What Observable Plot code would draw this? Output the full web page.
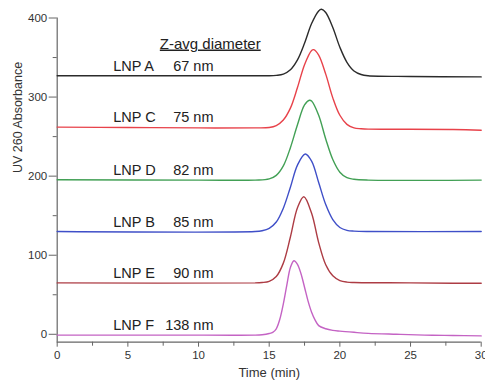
<!DOCTYPE html>
<html><head><meta charset="utf-8">
<script src="https://cdn.jsdelivr.net/npm/d3@7"></script>
<script src="https://cdn.jsdelivr.net/npm/@observablehq/plot@0.6"></script>
<style>
body{margin:0;background:#fff;}
svg{font-family:"Liberation Sans",Arial,sans-serif;}
</style>
</head><body><div id="chart"></div>
<script>
// Series (top to bottom, as drawn)
const names = ["LNP A","LNP C","LNP D","LNP B","LNP E","LNP F"];
const sizes = ["67 nm","75 nm","82 nm","85 nm","90 nm","138 nm"];
const colors = ["#2b2b2b","#e8424a","#42a055","#3f4fc8","#ad3c44","#c463c4"];
const baselines = [327, 262, 195, 130, 65, -1];

// Traces (time in min, absorbance incl. vertical offset)
const tA = [0,5,10,14,15,15.5,16,16.5,17,17.5,18,18.5,18.7,19,19.5,20,20.5,21,21.5,22,25,30];
const vA = [327,327,327,327,327,327.5,329,334.5,347,368,393,409,411,407,388,363,344,333,328.5,327,326,325.5];
const tC = [0,5,10,14,15,15.5,16,16.5,17,17.5,18,18.15,18.5,19,19.5,20,20.5,21,21.5,22,28,30];
const vC = [262,261.5,261,261,261.5,264,271,286,312,341,359,360,353,329,299,277,265.5,261,260,259.5,259,258];
const tD = [0,10,14,15,15.5,16,16.5,17,17.5,17.85,18,18.5,19,19.5,20,20.5,21,22,30];
const vD = [195.5,195,195,196.5,201,213,236,265,290,296,295,277,247,221,205,198,196,195,195];
const tB = [0,14,14.5,15,15.5,16,16.5,17,17.55,18,18.5,19,19.5,20,20.5,21,22,30];
const vB = [130,130,131,134,142,159.5,186,214,228,219,192,164,145,135,131.5,130.5,130,130];
const tE = [0,14,14.5,15,15.5,16,16.5,17,17.45,18,18.5,19,19.5,20,20.5,21,25,28,30];
const vE = [65,65,65.5,67,73,90,123,160,174,153,116,88,74,68,66,65.5,65,64.5,64.5];
const tF = [0,8,14,14.5,15,15.25,15.5,15.75,16,16.25,16.5,16.75,17,17.25,17.5,17.75,18,18.25,18.5,19,19.5,20,21,22,24,26,28,30];
const vF = [-1,-1,-1,-0.5,1,2.5,7,19,38.5,62.5,84.5,93,88.5,76.5,59.5,42,28,18,11,7,5,4,2.5,1.2,0,-1,-1.5,-2];

const yMajor = [0,100,200,300,400];
const yMinor = [50,150,250,350];
const xMajor = [0,5,10,15,20,25,30];
const xMinor = [2.5,7.5,12.5,17.5,22.5,27.5];
const header = [{text:"Z-avg diameter", x:10.83, y:367.5}];

const traces = [[tA,vA],[tC,vC],[tD,vD],[tB,vB],[tE,vE],[tF,vF]];
const rows = traces.flatMap(([t,v],i) => t.map((tt,j) => ({name:names[i], color:colors[i], t:tt, v:v[j]})));
const labels = names.map((n,i) => ({name:n, size:sizes[i], base:baselines[i]}));

const chart = Plot.plot({
  width: 485, height: 383,
  marginLeft: 56.7, marginRight: 4.3, marginTop: 17.5, marginBottom: 41.3,
  x: {domain: [0, 30]},
  y: {domain: [-10, 400]},
  color: {type: "identity"},
  style: {fontFamily: "Liberation Sans, Arial, sans-serif", color: "#333", background: "white"},
  marks: [
    Plot.ruleX([0], {y1: -10, y2: 400, stroke: "#666", strokeWidth: 1.2}),
    Plot.ruleY([-10], {x1: 0, x2: 30, stroke: "#666", strokeWidth: 1.2}),
    Plot.axisY(yMajor, {tickSize: 8, tickPadding: 2, fontSize: 11.5, label: null, stroke: "#666"}),
    Plot.axisY(yMinor, {tickSize: 4, text: null, label: null, stroke: "#666"}),
    Plot.axisX(xMajor, {tickSize: 5, tickPadding: 4, fontSize: 11.5, label: null, stroke: "#666"}),
    Plot.axisX(xMinor, {tickSize: 4, text: null, label: null, stroke: "#666"}),
    Plot.line(rows, {x: "t", y: "v", z: "name", stroke: "color", strokeWidth: 1.4, curve: "catmull-rom"}),
    Plot.text(labels, {x: 3.96, y: "base", text: "name", textAnchor: "start", dy: -9.5, fontSize: 14.5, fill: "#222"}),
    Plot.text(labels, {x: 11.06, y: "base", text: "size", textAnchor: "end", dy: -9.5, fontSize: 14.5, fill: "#222"}),
    Plot.text(header, {x: "x", y: "y", text: "text", fontSize: 15, fill: "#222", className: "zhead"}),
    Plot.text(["Time (min)"], {frameAnchor: "bottom", dy: 35, fontSize: 13, fill: "#333"}),
    Plot.text(["UV 260 Absorbance"], {frameAnchor: "left", rotate: -90, dx: -39, dy: -7, fontSize: 12.5, fill: "#333"})
  ]
});
d3.select(chart).selectAll(".zhead text").style("text-decoration", "underline");
document.getElementById("chart").appendChild(chart);
</script>
</body></html>
